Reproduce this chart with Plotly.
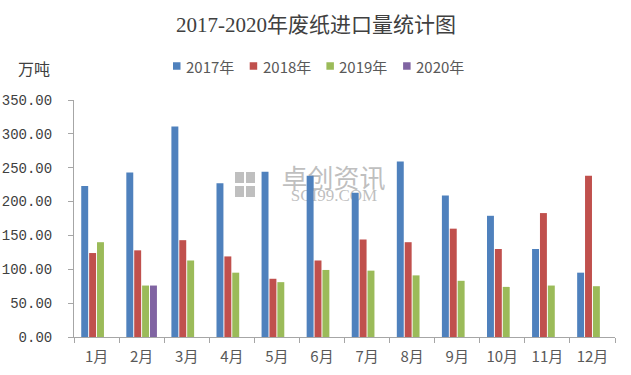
import plotly.graph_objects as go

months = ["1月", "2月", "3月", "4月", "5月", "6月", "7月", "8月", "9月", "10月", "11月", "12月"]
y2017 = [223, 243, 311, 227, 244, 238, 213, 259, 209, 179, 130, 95]
y2018 = [124, 128, 143, 119, 86, 113, 144, 140, 160, 130, 183, 238]
y2019 = [140, 76, 113, 95, 81, 99, 98, 91, 83, 74, 76, 75]
y2020 = [None, 76, None, None, None, None, None, None, None, None, None, None]

series_names = ["2017年", "2018年", "2019年", "2020年"]
series_values = [y2017, y2018, y2019, y2020]
series_colors = ["#4f81bd", "#c0504d", "#9bbb59", "#8064a2"]

W, H = 631, 375
L, R, T, B = 74, 16, 100, 38
PW, PH = W - L - R, H - T - B


def px(x):
    return (x - L) / PW


def py(y):
    return (H - B - y) / PH


fig = go.Figure()
for name, vals, col in zip(series_names, series_values, series_colors):
    fig.add_trace(go.Bar(x=months, y=vals, name=name, showlegend=False,
                         marker=dict(color=col, line=dict(width=0))))

fig.update_layout(
    width=W, height=H,
    margin=dict(l=L, r=R, t=T, b=B, autoexpand=False),
    paper_bgcolor="white", plot_bgcolor="white",
    barmode="group", bargap=0.3, bargroupgap=0.12,
    showlegend=False,
    font=dict(family="Noto Sans CJK SC", color="#595959"),
)
fig.update_xaxes(
    showline=True, linecolor="#a6a6a6", linewidth=1,
    ticks="outside", tickson="boundaries", ticklen=5, tickcolor="#a6a6a6",
    tickfont=dict(family="Noto Sans CJK SC", size=15, color="#595959"),
    ticklabelstandoff=6,
    showgrid=False, automargin=False,
)
fig.update_yaxes(
    range=[0, 350], dtick=50, tickformat=".2f",
    showline=True, linecolor="#a6a6a6", linewidth=1,
    ticks="outside", ticklen=5, tickcolor="#a6a6a6",
    tickfont=dict(family="Liberation Mono", size=14, color="#404040"),
    ticklabelstandoff=13,
    showgrid=False, zeroline=False, automargin=False,
)

# title and unit
fig.add_annotation(text="2017-2020年废纸进口量统计图", xref="paper", yref="paper",
                   x=px(316), y=py(25), showarrow=False, xanchor="center", yanchor="middle",
                   font=dict(family="Liberation Serif, Noto Sans CJK SC", size=21, color="#404040"))
fig.add_annotation(text="万吨", xref="paper", yref="paper",
                   x=px(16), y=py(68), showarrow=False, xanchor="left", yanchor="middle",
                   font=dict(family="Noto Sans CJK SC", size=16, color="#404040"))

# legend (manual, to match spacing)
leg_x0 = 173
leg_step = 76.7
leg_y = 66
for i, (name, col) in enumerate(zip(series_names, series_colors)):
    x0 = leg_x0 + i * leg_step
    fig.add_shape(type="rect", xref="paper", yref="paper",
                  x0=px(x0), x1=px(x0 + 7.5), y0=py(leg_y + 3.75), y1=py(leg_y - 3.75),
                  fillcolor=col, line=dict(width=0))
    fig.add_annotation(text=name, xref="paper", yref="paper",
                       x=px(x0 + 11), y=py(leg_y), showarrow=False, xanchor="left", yanchor="middle",
                       font=dict(family="Noto Sans CJK SC", size=15, color="#595959"))

# watermark (behind bars)
wm = "rgba(170,170,170,0.75)"
for (a, b, c, d) in [(235, 244, 172, 183), (246, 255, 172, 183), (235, 244, 186, 197), (246, 255, 186, 197)]:
    fig.add_shape(type="rect", xref="paper", yref="paper", layer="below",
                  x0=px(a), x1=px(b), y0=py(d), y1=py(c), fillcolor=wm, line=dict(width=0))
fig.add_shape(type="rect", xref="paper", yref="paper", layer="below",
              x0=px(275), x1=px(392), y0=py(190), y1=py(170),
              fillcolor="rgba(0,0,0,0)", line=dict(width=0),
              label=dict(text="卓创资讯", textposition="middle center",
                         font=dict(family="Noto Sans CJK SC", size=26, color=wm)))
fig.add_shape(type="rect", xref="paper", yref="paper", layer="below",
              x0=px(278), x1=px(390), y0=py(201), y1=py(185),
              fillcolor="rgba(0,0,0,0)", line=dict(width=0),
              label=dict(text="SCI99.COM", textposition="middle center",
                         font=dict(family="Liberation Serif", size=17, color=wm)))

fig.write_html("out.html", config={"displayModeBar": False},
               post_script="document.body.style.margin='0';")
